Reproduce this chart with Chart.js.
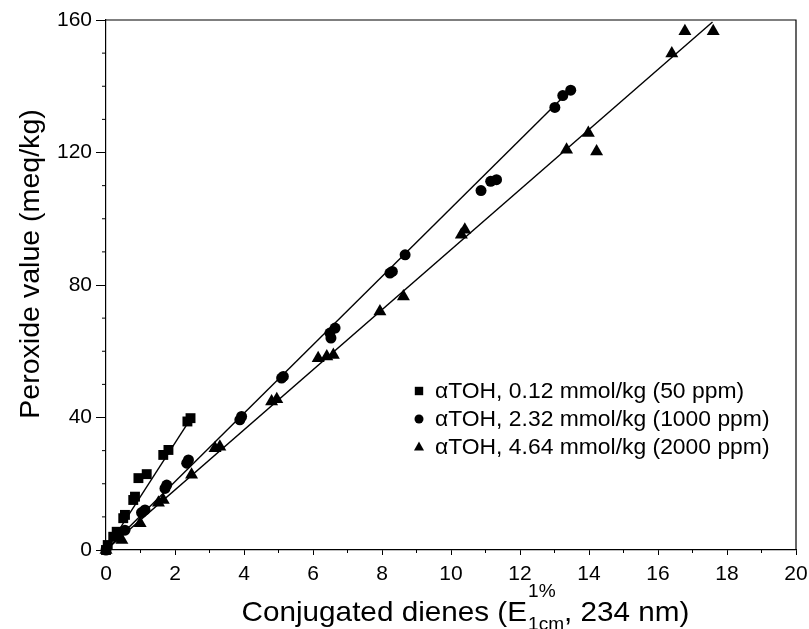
<!DOCTYPE html>
<html lang="en">
<head>
<meta charset="UTF-8">
<title>Peroxide value vs conjugated dienes</title>
<script src="https://cdn.jsdelivr.net/npm/chart.js@4.4.0/dist/chart.umd.min.js"></script>
<style>
  html, body { margin: 0; padding: 0; background: #fff; }
</style>
</head>
<body>
<canvas id="chart" width="809" height="629"></canvas>
<script>
// alpha-TOH 0.12 mmol/kg (50 ppm) - squares
const x50 = [0, 0.05, 0.21, 0.31, 0.5, 0.55, 0.79, 0.84, 0.94, 1.18, 1.66, 1.81, 2.36, 2.45];
const y50 = [0, 1.5, 4, 5.5, 9.6, 10.6, 15.1, 16.1, 21.7, 22.9, 28.7, 30.2, 38.8, 39.8];

// alpha-TOH 2.32 mmol/kg (1000 ppm) - circles
const x1000 = [0, 0.31, 0.55, 1.03, 1.13, 1.71, 1.76, 2.34, 2.39, 3.88, 3.93, 5.09, 5.14,
               6.49, 6.52, 6.64, 8.23, 8.3, 8.67, 10.87, 11.15, 11.32, 13.01, 13.24, 13.47];
const y1000 = [0, 4.5, 6, 11.3, 12.1, 18.6, 19.6, 26.2, 27.2, 39.3, 40.3, 51.9, 52.4,
               65.5, 64.0, 67, 83.6, 84.1, 89.1, 108.5, 111.3, 111.8, 133.6, 137.2, 138.8];

// alpha-TOH 4.64 mmol/kg (2000 ppm) - triangles
const x2000 = [0, 0.26, 0.46, 0.99, 1.52, 1.66, 2.48, 3.16, 3.3, 4.8, 4.95, 6.15, 6.4, 6.59,
               7.94, 8.62, 10.3, 10.4, 13.35, 13.98, 14.22, 16.4, 16.78, 17.6];
const y2000 = [0, 4, 3, 8.1, 14.3, 15.1, 22.7, 30.7, 31.2, 44.8, 45.5, 57.9, 58.4, 58.9,
               72, 76.5, 95.2, 96.7, 120.8, 125.9, 120.3, 149.9, 156.6, 156.6];

// fitted lines (end points)
const fit50X = [0, 2.45],   fit50Y = [0, 39.6];
const fit1000X = [0, 13.47], fit1000Y = [0, 139];
const fit2000X = [0, 17.58], fit2000Y = [0, 159.4];

const seriesLabels = [
  'αTOH, 0.12 mmol/kg (50 ppm)',
  'αTOH, 2.32 mmol/kg (1000 ppm)',
  'αTOH, 4.64 mmol/kg (2000 ppm)'
];

const FONT = '"Liberation Sans", Arial, Helvetica, sans-serif';

function pts(xs, ys) {
  return xs.map((v, i) => ({ x: v, y: ys[i] }));
}

function markerSet(label, xs, ys, style, r) {
  return {
    label: label, data: pts(xs, ys), pointStyle: style, pointRadius: r,
    backgroundColor: '#000', borderColor: '#000', borderWidth: 0, clip: false
  };
}

function fitSet(xs, ys) {
  return {
    label: '', data: pts(xs, ys), showLine: true, pointRadius: 0,
    borderColor: '#000', borderWidth: 1.4, fill: false, isFit: true
  };
}

function marker(ctx, style, x, y, r) {
  ctx.beginPath();
  if (style === 'rect') {
    ctx.rect(x - r, y - r, 2 * r, 2 * r);
  } else if (style === 'circle') {
    ctx.arc(x, y, r, 0, Math.PI * 2);
  } else {
    ctx.moveTo(x, y - r * 1.1);
    ctx.lineTo(x + r, y + r * 0.7);
    ctx.lineTo(x - r, y + r * 0.7);
    ctx.closePath();
  }
  ctx.fill();
}

// text a bit stretched along its direction, like the scanned original
function wideText(ctx, txt, x, y, sx) {
  ctx.save();
  ctx.translate(x, y);
  ctx.scale(sx, 1);
  ctx.fillText(txt, 0, 0);
  ctx.restore();
}

const decor = {
  id: 'decor',
  afterDraw(chart) {
    const ctx = chart.ctx, a = chart.chartArea;
    const xs = chart.scales.x, ys = chart.scales.y;
    ctx.save();
    ctx.strokeStyle = '#000';
    ctx.lineWidth = 1.2;

    // top and right frame
    ctx.beginPath();
    ctx.moveTo(a.left, a.top);
    ctx.lineTo(a.right, a.top);
    ctx.lineTo(a.right, a.bottom);
    ctx.stroke();

    // minor ticks
    ctx.lineWidth = 1;
    ctx.beginPath();
    for (let v = 1; v < 20; v += 2) {
      const px = xs.getPixelForValue(v);
      ctx.moveTo(px, a.bottom);
      ctx.lineTo(px, a.bottom + 3);
    }
    for (let v = 10; v < 160; v += 10) {
      if (v % 40 === 0) continue;
      const py = ys.getPixelForValue(v);
      ctx.moveTo(a.left, py);
      ctx.lineTo(a.left - 4, py);
    }
    ctx.stroke();

    ctx.fillStyle = '#000';

    // y title
    ctx.save();
    ctx.translate(31, 264);
    ctx.rotate(-Math.PI / 2);
    ctx.font = '28px ' + FONT;
    ctx.textAlign = 'center';
    ctx.textBaseline = 'middle';
    wideText(ctx, 'Peroxide value (meq/kg)', 0, 0, 1.02);
    ctx.restore();

    // x title with super/subscript
    const sx = 1.06;
    const big = '28px ' + FONT, small = '18px ' + FONT;
    const p1 = 'Conjugated dienes (E', sup = '1%', sub = '1cm', p2 = ', 234 nm)';
    ctx.textBaseline = 'alphabetic';
    ctx.textAlign = 'left';
    ctx.font = big;
    const w1 = ctx.measureText(p1).width * sx, w2 = ctx.measureText(p2).width * sx;
    ctx.font = small;
    const wsub = Math.max(ctx.measureText(sup).width, ctx.measureText(sub).width) * sx;
    let tx = 465 - (w1 + wsub + w2) / 2;
    const base = 621;
    ctx.font = big;
    wideText(ctx, p1, tx, base, sx);
    tx += w1 + 1;
    ctx.font = small;
    wideText(ctx, sup, tx, base - 24, sx);
    wideText(ctx, sub, tx, base + 9, sx);
    tx += wsub;
    ctx.font = big;
    wideText(ctx, p2, tx, base, sx);

    // legend
    const styles = chart.data.datasets.filter(d => !d.isFit);
    ctx.font = '22px ' + FONT;
    ctx.textBaseline = 'middle';
    styles.forEach((d, i) => {
      const yy = 391 + i * 28;
      const st = d.pointStyle;
      marker(ctx, st, 419, yy, st === 'rect' ? 4.2 : (st === 'circle' ? 4.5 : 5));
      wideText(ctx, d.label, 435, yy + 1, 1.04);
    });
    ctx.restore();
  }
};

new Chart(document.getElementById('chart'), {
  type: 'scatter',
  data: {
    datasets: [
      markerSet(seriesLabels[0], x50, y50, 'rect', 7),
      markerSet(seriesLabels[1], x1000, y1000, 'circle', 5.5),
      markerSet(seriesLabels[2], x2000, y2000, 'triangle', 7.5),
      fitSet(fit50X, fit50Y),
      fitSet(fit1000X, fit1000Y),
      fitSet(fit2000X, fit2000Y)
    ]
  },
  options: {
    responsive: false,
    animation: false,
    layout: { padding: { left: 0, right: 13, top: 20, bottom: 0 } },
    plugins: { legend: { display: false }, tooltip: { enabled: false } },
    scales: {
      x: {
        type: 'linear', min: 0, max: 20,
        afterFit(s) { s.height = 79; s.paddingRight = 0; s.paddingLeft = 0; },
        ticks: { stepSize: 2, color: '#000', padding: 7, maxRotation: 0,
                 font: { family: FONT, size: 21 } },
        grid: { drawOnChartArea: false, tickLength: 5, color: '#000' },
        border: { color: '#000', width: 1.2 }
      },
      y: {
        type: 'linear', min: 0, max: 160,
        afterFit(s) { s.width = 106; s.paddingTop = 0; s.paddingBottom = 0; },
        ticks: { stepSize: 40, color: '#000', padding: 4,
                 font: { family: FONT, size: 21 } },
        grid: { drawOnChartArea: false, tickLength: 10, color: '#000' },
        border: { color: '#000', width: 1.2 }
      }
    }
  },
  plugins: [decor]
});
</script>
</body>
</html>
